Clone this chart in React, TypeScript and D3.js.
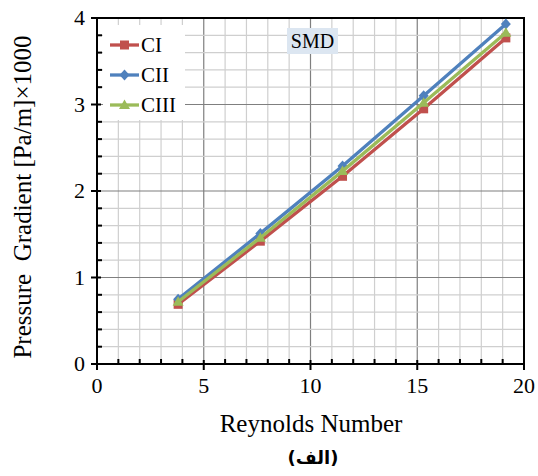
import React from "react";
import * as d3 from "d3";

const reynolds = [3.8, 7.65, 11.5, 15.3, 19.15];
const ciValues = [0.69, 1.42, 2.17, 2.95, 3.77];
const ciiValues = [0.75, 1.51, 2.29, 3.1, 3.93];
const ciiiValues = [0.72, 1.46, 2.23, 3.02, 3.83];
const seriesNames = ["CI", "CII", "CIII"];
const xTicks = [0, 5, 10, 15, 20];
const yTicks = [0, 1, 2, 3, 4];

const colors = ["#C0504D", "#4F81BD", "#9BBB59"];
const font = "'Liberation Serif', 'Times New Roman', serif";

const W = 538;
const H = 476;
const m = { left: 97, right: 524, top: 18, bottom: 364 };

export default function App() {
  const x = d3.scaleLinear().domain([0, 20]).range([m.left, m.right]);
  const y = d3.scaleLinear().domain([0, 4]).range([m.bottom, m.top]);

  const series = [ciValues, ciiValues, ciiiValues].map((vals, i) => ({
    name: seriesNames[i],
    color: colors[i],
    points: vals.map((v, j) => [reynolds[j], v] as [number, number]),
  }));

  const line = d3
    .line<[number, number]>()
    .x((d) => x(d[0]))
    .y((d) => y(d[1]));

  const xMinor = d3.range(0, 21, 1);
  const yMinor = d3.range(0, 4.001, 0.2);

  const marker = (i: number, cx: number, cy: number, key: string) => {
    const c = colors[i];
    if (i === 0) return <rect key={key} x={cx - 4.5} y={cy - 4.5} width={9} height={9} fill={c} />;
    if (i === 1)
      return (
        <path
          key={key}
          d={`M${cx},${cy - 5.5}L${cx + 5},${cy}L${cx},${cy + 5.5}L${cx - 5},${cy}Z`}
          fill={c}
        />
      );
    return (
      <path
        key={key}
        d={`M${cx},${cy - 5.5}L${cx + 5.5},${cy + 4}L${cx - 5.5},${cy + 4}Z`}
        fill={c}
      />
    );
  };

  return (
    <svg width={W} height={H} style={{ position: "absolute", left: 0, top: 0 }}>
      <rect width={W} height={H} fill="#fff" />
      {/* grid */}
      {xMinor.map((v) => (
        <line key={"gx" + v} x1={x(v)} x2={x(v)} y1={m.top} y2={m.bottom} stroke={v % 5 === 0 ? "#7f7f7f" : "#cfcfcf"} strokeWidth={1.2} />
      ))}
      {yMinor.map((v, i) => (
        <line key={"gy" + i} x1={m.left} x2={m.right} y1={y(v)} y2={y(v)} stroke={i % 5 === 0 ? "#7f7f7f" : "#cfcfcf"} strokeWidth={1.2} />
      ))}

      {/* legend box */}
      <rect x={103} y={25} width={82} height={95} fill="#fff" />

      {/* SMD label */}
      <rect x={287} y={28} width={51} height={26} fill="#dce6f1" />
      <text x={312.5} y={48} textAnchor="middle" fontFamily={font} fontSize={20}>SMD</text>

      {/* frame */}
      <rect x={m.left} y={m.top} width={m.right - m.left} height={m.bottom - m.top} fill="none" stroke="#000" strokeWidth={2} />

      {/* ticks */}
      {xMinor.map((v) =>
        v % 5 === 0 ? (
          <line key={"tx" + v} x1={x(v)} x2={x(v)} y1={m.bottom - 4} y2={m.bottom + 6} stroke="#000" strokeWidth={2} />
        ) : (
          <line key={"tx" + v} x1={x(v)} x2={x(v)} y1={m.bottom - 5} y2={m.bottom} stroke="#000" strokeWidth={2} />
        )
      )}
      {yMinor.map((v, i) =>
        i % 5 === 0 ? (
          <line key={"ty" + i} x1={m.left - 6} x2={m.left + 4} y1={y(v)} y2={y(v)} stroke="#000" strokeWidth={2} />
        ) : (
          <line key={"ty" + i} x1={m.left} x2={m.left + 5} y1={y(v)} y2={y(v)} stroke="#000" strokeWidth={2} />
        )
      )}

      {/* tick labels */}
      {xTicks.map((v) => (
        <text key={"xl" + v} x={x(v)} y={m.bottom + 29} textAnchor="middle" fontFamily={font} fontSize={22}>{v}</text>
      ))}
      {yTicks.map((v) => (
        <text key={"yl" + v} x={m.left - 12} y={y(v) + 7} textAnchor="end" fontFamily={font} fontSize={22}>{v}</text>
      ))}

      {/* series */}
      {series.map((s, i) => (
        <g key={s.name}>
          <path d={line(s.points) || ""} fill="none" stroke={s.color} strokeWidth={3.3} />
          {s.points.map((p, j) => marker(i, x(p[0]), y(p[1]), s.name + j))}
        </g>
      ))}

      {/* legend */}
      {series.map((s, i) => {
        const ly = 45 + i * 30;
        return (
          <g key={"lg" + s.name}>
            <line x1={110} x2={139} y1={ly} y2={ly} stroke={s.color} strokeWidth={3.3} />
            {marker(i, 124.5, ly, "lm" + i)}
            <text x={141} y={ly + 7} fontFamily={font} fontSize={21}>{s.name}</text>
          </g>
        );
      })}

      {/* axis titles */}
      <text x={311} y={432} textAnchor="middle" fontFamily={font} fontSize={25}>Reynolds Number</text>
      <text transform={`translate(31,197) rotate(-90)`} textAnchor="middle" fontFamily={font} fontSize={25} style={{ whiteSpace: "pre" }}>
        {"Pressure  Gradient [Pa/m]×1000"}
      </text>
      <text x={313} y={464} textAnchor="middle" fontFamily="'DejaVu Sans', sans-serif" fontWeight="bold" fontSize={18} direction="rtl">
        (الف)
      </text>
    </svg>
  );
}
